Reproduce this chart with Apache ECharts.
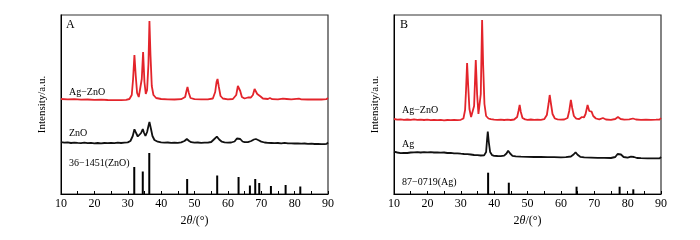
<!DOCTYPE html>
<html>
<head>
<meta charset="utf-8">
<script src="https://cdn.jsdelivr.net/npm/echarts@6/dist/echarts.min.js"></script>
<style>
  html, body { margin: 0; padding: 0; background: #fff; }
  #chart { width: 700px; height: 240px; }
</style>
</head>
<body>
<div id="chart"></div>
<script>
// 2θ range and tick labels
const xTicks = [10, 20, 30, 40, 50, 60, 70, 80, 90];

// panel A: Ag-ZnO (offset), ZnO (offset), JCPDS 36-1451 sticks
const agZnoA = [[10,95],[12,94.6],[14,94.8],[16,94.4],[18,94.5],[20,94.2],[22,94.3],[24,94],[26,93.8],[28,93.9],[29.5,94.2],[30.5,95],[31.2,99],[31.6,115],[32.0,139],[32.4,118],[32.8,101],[33.3,97],[33.8,99],[34.2,115],[34.6,142],[35.0,112],[35.4,100],[35.8,104],[36.2,130],[36.5,173],[36.8,140],[37.2,108],[37.7,99],[38.5,96],[40,95],[42,94.6],[44,94.5],[46,94.8],[47.2,97],[47.6,103],[47.9,107],[48.3,101],[48.8,96],[50,94.8],[52,94.6],[54,94.7],[55.5,95.5],[56.2,102],[56.6,112],[56.9,115],[57.3,107],[57.8,98],[58.5,95.5],[60,94.6],[61.5,95],[62.5,99],[63.0,108],[63.3,110],[63.7,103],[64.2,97],[65,95.5],[66,96.5],[66.4,97],[66.9,96.5],[67.5,99],[68.0,105],[68.3,106.5],[68.8,100],[69.3,101],[69.8,97.5],[70.5,95.5],[72,95],[72.6,96],[73.3,94.8],[75,94.6],[76.5,95.3],[77,96],[77.6,95],[79,94.6],[81.3,95.3],[82,94.7],[84,94.5],[86,94.6],[88,94.5],[89.5,94.8],[90,96]];
const znoA = [[10,51.8],[11,51.3],[12,51.6],[13,51.0],[14,51.4],[15,51.1],[16,50.9],[17,51.3],[18,50.8],[19,51.2],[20,50.7],[21,51.0],[22,50.6],[23,51.0],[24,50.8],[25,51.2],[26,50.9],[27,51.3],[28,51.0],[29,51.4],[30,51.6],[30.8,53],[31.5,58],[32.0,64.7],[32.5,61],[33.0,57.5],[33.5,58],[34.0,61],[34.5,65],[34.9,61],[35.3,58],[35.8,62],[36.2,68],[36.5,72],[36.9,66],[37.4,58],[38,54],[39,52.3],[40,51.6],[41,51.3],[42,51.5],[43,51.1],[44,51.4],[45,51.2],[46,51.6],[47,53],[47.7,55],[48.4,53],[49,51.8],[50,51.3],[51,51.5],[52,51.2],[53,51.4],[54,51.3],[55,52],[55.8,54.5],[56.7,57.3],[57.4,54.5],[58.2,52.3],[59,51.6],[60,51.4],[61,51.5],[62,52.5],[62.7,55.5],[63.2,57.3],[63.7,55],[64.4,52.5],[65,51.8],[66,51.9],[67,53],[67.8,54.5],[68.4,55],[69.2,53.8],[70,52.4],[71,51.5],[72,51.2],[73,51],[74,50.8],[75,51],[76,50.7],[77,51.2],[78,50.6],[79,50.7],[80,50.5],[81,50.6],[82,50.3],[83,50.5],[84,50.2],[85,50.4],[86,50],[87,50.2],[88,49.8],[89,49.9],[89.6,50.2],[90,51.5]];
const refZnoPos = [31.95, 34.5, 36.45, 47.8, 56.8, 63.2, 66.6, 68.2, 69.4, 72.9, 77.3, 81.7];
const refZnoInt = [27, 22.5, 41, 15, 18.5, 17, 8.5, 15, 11, 8, 9, 7.5];

// panel B: Ag-ZnO (offset), Ag (offset), JCPDS 87-0719 sticks
const agZnoB = [[10,75],[11,74.3],[12,74.6],[13,74.1],[14,74.5],[15,74.2],[16,74.6],[17,74.1],[18,74.4],[19,74.0],[20,74.3],[21,73.9],[22,74.2],[23,73.8],[24,74.1],[25,73.7],[26,74.0],[27,73.8],[28,74.1],[29,73.9],[30,74.2],[30.8,75.5],[31.3,84],[31.6,105],[31.9,131],[32.2,110],[32.6,85],[33.1,77],[33.6,76.5],[34.0,88],[34.5,134],[34.9,100],[35.3,80],[35.7,80],[36.0,100],[36.4,174],[36.7,130],[37.1,90],[37.6,78],[38.3,75.5],[39,74.8],[40,74.4],[41,74.1],[42,74.4],[43,74.0],[44,74.3],[45,74.0],[46,74.5],[46.9,77],[47.3,83],[47.65,89],[48.0,82],[48.5,76],[49.3,74.6],[50,74.2],[51,74.5],[52,74.1],[53,74.4],[54,74.2],[55,74.8],[55.8,79],[56.3,90],[56.65,99],[57.0,91],[57.5,80],[58.2,75.5],[59,74.6],[60,74.3],[61,74.5],[62,76],[62.5,83],[63.0,94],[63.4,86],[63.9,78],[64.6,75.3],[65.5,75],[66.3,77],[66.9,76.5],[67.4,80],[68.0,89],[68.5,83],[69.2,82.3],[69.7,78],[70.5,75.5],[71.5,74.6],[72.6,76],[73.5,74.5],[75,74.2],[76.3,75],[77.1,77],[77.9,75],[79,74.4],[80.5,74.6],[81.6,75.5],[82.5,74.5],[84,74.2],[85.5,74.4],[87,74.1],[88.5,74.3],[89.6,74.5],[90,76]];
const agB = [[10,42.3],[11,41.5],[12,40.8],[13,41.2],[14,41.0],[15,41.5],[16,41.6],[17,41.9],[18,41.5],[19,41.8],[20,41.6],[21,41.9],[22,41.5],[23,41.7],[24,41.3],[25,41.5],[26,41.0],[27,41.2],[28,40.6],[29,40.7],[30,40.3],[31,40.0],[32,39.8],[33,39.5],[34,39.0],[35,38.8],[36,38.5],[37,38.6],[37.6,42],[37.9,55],[38.1,62.3],[38.4,52],[38.8,42],[39.4,38.8],[40,38.2],[41,38.0],[42,37.9],[43,38.3],[43.7,40.5],[44.2,43.3],[44.8,40.5],[45.5,38.2],[46.5,37.6],[48,37.3],[50,37.2],[52,37.0],[54,37.1],[56,36.8],[58,36.9],[60,36.7],[61.5,36.8],[63,37.5],[63.8,39.5],[64.4,41.7],[65,39.2],[65.8,37.2],[67,36.6],[69,36.4],[71,36.2],[73,36.1],[75,36.0],[76.3,37],[77.0,40],[77.4,41.3],[78,39.5],[78.8,37],[80,36.3],[81,37.3],[81.4,39],[81.9,37],[82.8,36],[84,35.8],[86,35.7],[88,35.6],[89.6,35.7],[90,37]];
const refAgPos = [38.2, 44.4, 64.7, 77.6, 81.7];
const refAgInt = [21.3, 11.3, 7.3, 7.3, 4.7];

const SERIF = '"Liberation Serif", "DejaVu Serif", serif';
const RED = '#e3242b';
const BLACK = '#111';

function sticks(pos, val) {
  return pos.map(function (p, i) { return [p, val[i]]; });
}

function makeX(idx) {
  return {
    type: 'value', gridIndex: idx, min: xTicks[0], max: xTicks[xTicks.length - 1], interval: 10,
    axisLine: { show: true, lineStyle: { color: '#000', width: 1 } },
    axisTick: { show: true, inside: true, length: 3, lineStyle: { color: '#000' } },
    minorTick: { show: true, splitNumber: 2, length: 3, lineStyle: { color: '#000' } },
    splitLine: { show: false },
    axisLabel: { color: '#000', fontFamily: SERIF, fontSize: 12, margin: 4 },
    name: '{n|2}{i|θ}{n|/(°)}', nameLocation: 'middle', nameGap: 19,
    nameTextStyle: {
      rich: {
        n: { fontFamily: SERIF, fontSize: 12, color: '#000' },
        i: { fontFamily: SERIF, fontSize: 12, fontStyle: 'italic', color: '#000' }
      }
    }
  };
}

function makeY(idx) {
  return {
    type: 'value', gridIndex: idx, min: 0, max: 179,
    axisLine: { show: true, lineStyle: { color: '#000', width: 1 } },
    axisTick: { show: false }, axisLabel: { show: false }, splitLine: { show: false },
    name: 'Intensity/a.u.', nameLocation: 'middle', nameGap: 13, nameRotate: 90,
    nameTextStyle: { fontFamily: SERIF, fontSize: 11, color: '#000' }
  };
}

function lineSeries(data, color, idx) {
  return {
    type: 'line', data: data, xAxisIndex: idx, yAxisIndex: idx,
    symbol: 'none', silent: true,
    lineStyle: { color: color, width: 1.8 }
  };
}

function barSeries(data, idx) {
  return {
    type: 'bar', data: data, xAxisIndex: idx, yAxisIndex: idx,
    barWidth: 2, silent: true, itemStyle: { color: '#000' }
  };
}

function label(text, x, y, size) {
  return {
    type: 'text', x: x, y: y, silent: true,
    style: { text: text, fill: '#000', fontFamily: SERIF, fontSize: size || 10, verticalAlign: 'middle', align: 'left' }
  };
}

const chart = echarts.init(document.getElementById('chart'), null, { renderer: 'canvas' });
chart.setOption({
  animation: false,
  backgroundColor: '#fff',
  grid: [
    { left: 61, width: 267, top: 15, height: 179, show: true, borderColor: '#333', borderWidth: 1.2, backgroundColor: 'transparent' },
    { left: 394, width: 267, top: 15, height: 179, show: true, borderColor: '#333', borderWidth: 1.2, backgroundColor: 'transparent' }
  ],
  xAxis: [makeX(0), makeX(1)],
  yAxis: [makeY(0), makeY(1)],
  series: [
    lineSeries(agZnoA, RED, 0),
    lineSeries(znoA, BLACK, 0),
    barSeries(sticks(refZnoPos, refZnoInt), 0),
    lineSeries(agZnoB, RED, 1),
    lineSeries(agB, BLACK, 1),
    barSeries(sticks(refAgPos, refAgInt), 1)
  ],
  graphic: [
    label('A', 66, 25, 12),
    label('Ag−ZnO', 69, 92.5),
    label('ZnO', 69, 133.5),
    label('36−1451(ZnO)', 69, 163.5),
    label('B', 400, 25, 12),
    label('Ag−ZnO', 402, 110.7),
    label('Ag', 402, 144),
    label('87−0719(Ag)', 402, 182.5)
  ]
});
</script>
</body>
</html>
